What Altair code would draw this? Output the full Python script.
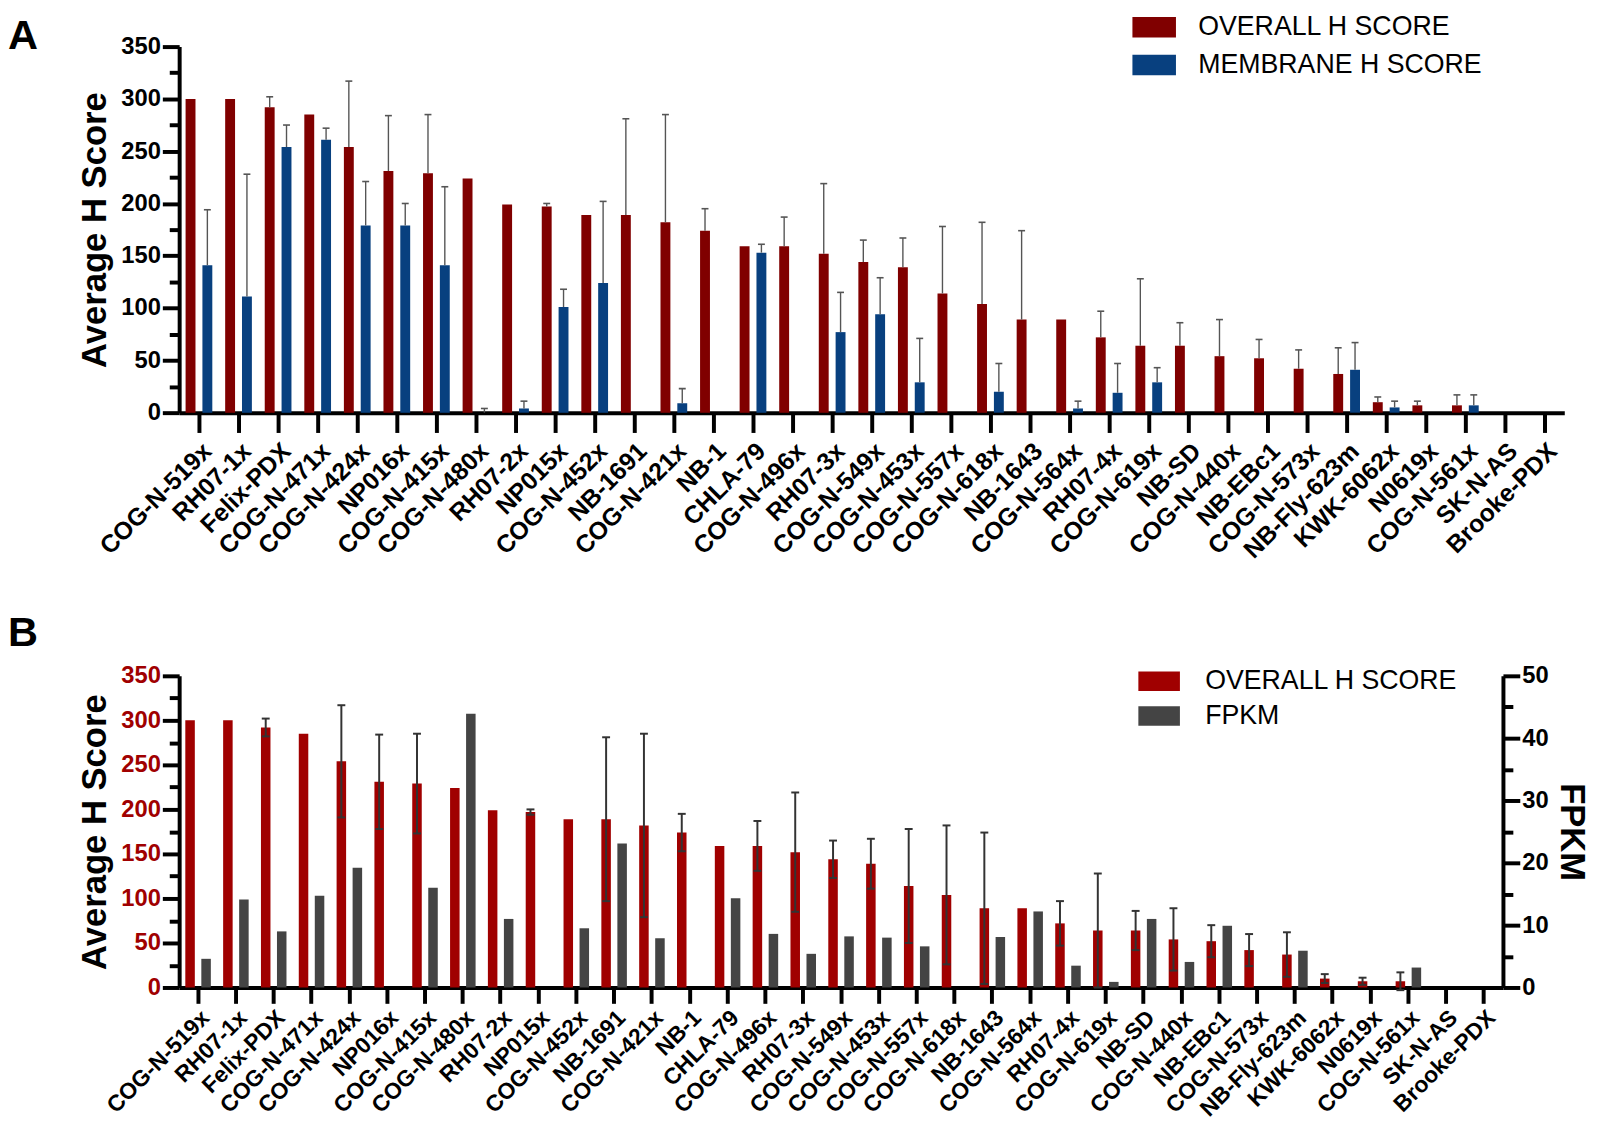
import altair as alt
import pandas as pd

categories = ["COG-N-519x", "RH07-1x", "Felix-PDX", "COG-N-471x", "COG-N-424x", "NP016x",
              "COG-N-415x", "COG-N-480x", "RH07-2x", "NP015x", "COG-N-452x", "NB-1691",
              "COG-N-421x", "NB-1", "CHLA-79", "COG-N-496x", "RH07-3x", "COG-N-549x",
              "COG-N-453x", "COG-N-557x", "COG-N-618x", "NB-1643", "COG-N-564x", "RH07-4x",
              "COG-N-619x", "NB-SD", "COG-N-440x", "NB-EBc1", "COG-N-573x", "NB-Fly-623m",
              "KWK-6062x", "N0619x", "COG-N-561x", "SK-N-AS", "Brooke-PDX"]

overall_mean = [300, 300, 292, 285, 254, 231, 229, 224, 199, 197, 189, 189, 182, 174, 159, 159,
                152, 144, 139, 114, 104, 89, 89, 72, 64, 64, 54, 52, 42, 37, 10, 7, 7, 0, 0]
overall_sd = [0, 0, 10, 0, 63, 53, 56, 0, 0, 3, 0, 92, 103, 21, 0, 28,
              67, 21, 28, 64, 78, 85, 0, 25, 64, 22, 35, 18, 18, 25, 5, 4, 10, 0, 0]
membrane_mean = [141, 111, 254, 261, 179, 179, 141, 0, 4, 101, 124, 0, 9, 0, 153, 0,
                 77, 94, 29, 0, 20, 0, 4, 19, 29, 0, 0, 0, 0, 41, 5, 0, 7, 0, 0]
membrane_sd = [53, 117, 21, 11, 42, 21, 75, 4, 7, 17, 78, 0, 14, 0, 8, 0,
               38, 35, 42, 0, 27, 0, 7, 28, 14, 0, 0, 0, 0, 26, 6, 0, 10, 0, 0]
fpkm = [4.6, 14.1, 9.0, 14.7, 19.2, 0, 16.0, 43.9, 11.0, 0, 9.5, 23.1, 7.9, 0, 14.3, 8.6,
        5.4, 8.2, 8.0, 6.6, 0, 8.1, 12.2, 3.5, 0.9, 11.0, 4.1, 9.9, 0, 5.9, 0, 0, 3.2, 0, 0]

series_a = ["OVERALL H SCORE", "MEMBRANE H SCORE"]
series_b = ["OVERALL H SCORE", "FPKM"]

FONT = "Liberation Sans"
RED_A = "#800000"
BLUE_A = "#08407F"
RED_B = "#A00000"
GRAY_B = "#444444"

# ---------------- data tables ----------------
rows_a = []
for i, c in enumerate(categories):
    rows_a.append({"cat": c, "series": series_a[0], "mean": overall_mean[i], "sd": overall_sd[i]})
    rows_a.append({"cat": c, "series": series_a[1], "mean": membrane_mean[i], "sd": membrane_sd[i]})
df_a = pd.DataFrame(rows_a)
df_a["hi"] = df_a["mean"] + df_a["sd"]

df_bh = pd.DataFrame({"cat": categories, "series": series_b[0], "mean": overall_mean, "sd": overall_sd})
df_bh["hi"] = df_bh["mean"] + df_bh["sd"]
df_bh["lo"] = df_bh["mean"] - df_bh["sd"]
df_bf = pd.DataFrame({"cat": categories, "series": series_b[1], "fpkm": fpkm})

# wide rectangle legend swatch (path drawn beyond the nominal symbol box)
rect_path = "M-2,-0.94H2V0.94H-2Z"

def x_axis(pad, size, tick):
    return alt.Axis(title=None, labelAngle=-45, labelAlign="right", labelBaseline="top",
                    labelFontSize=size, labelFontWeight="bold", labelColor="black", labelPadding=pad,
                    labelLimit=400, labelOverlap=False, tickSize=tick, tickWidth=4, tickColor="black",
                    domainWidth=4, domainColor="black", grid=False)

def y_axis(label_color, step_major, step_minor, top, title, orient="left", title_pad=8):
    return alt.Axis(title=title, orient=orient, values=list(range(0, top + 1, step_minor)),
                    labelExpr=f"datum.value % {step_major} === 0 ? datum.label : ''",
                    tickSize={"condition": {"test": f"datum.value % {step_major} === 0", "value": 17}, "value": 10},
                    tickWidth=4, tickColor="black", domainWidth=4, domainColor="black",
                    labelFontSize=24, labelFontWeight="bold", labelColor=label_color, labelPadding=2,
                    titleFontSize=35, titleFontWeight="bold", titleColor="black", titlePadding=title_pad,
                    grid=False)

# ---------------- Panel A ----------------
xA = alt.X("cat:N", sort=categories, scale=alt.Scale(paddingInner=0, paddingOuter=0), axis=x_axis(6, 25, 20))
xoffA = alt.XOffset("series:N", sort=series_a,
                    scale=alt.Scale(domain=series_a, paddingInner=0.412, paddingOuter=0.382))
yscaleA = alt.Scale(domain=[0, 350], nice=False)
yaxA = y_axis("black", 50, 25, 350, "Average H Score")

legA = alt.Legend(title=None, orient="none", legendX=972, legendY=-33, direction="vertical",
                  symbolType=rect_path, symbolSize=484, symbolStrokeWidth=0, symbolOpacity=1,
                  labelFontSize=27, labelFont=FONT, labelColor="black", labelOffset=31,
                  rowPadding=10, padding=0, labelLimit=400)
colorA = alt.Color("series:N", scale=alt.Scale(domain=series_a, range=[RED_A, BLUE_A]), legend=legA)

barsA = alt.Chart(df_a).mark_bar().encode(
    x=xA, xOffset=xoffA, y=alt.Y("mean:Q", scale=yscaleA, axis=yaxA), color=colorA)
errA = alt.Chart(df_a).transform_filter("datum.sd > 0").mark_rule(color="#555555", strokeWidth=1.4).encode(
    x=xA, xOffset=xoffA, y=alt.Y("mean:Q", scale=yscaleA, axis=yaxA), y2="hi:Q")
capA = alt.Chart(df_a).transform_filter("datum.sd > 0").mark_tick(
    color="#555555", size=7, thickness=1.6, opacity=1).encode(
    x=xA, xOffset=xoffA, y=alt.Y("hi:Q", scale=yscaleA, axis=yaxA))
letterA = alt.Chart(pd.DataFrame({"t": ["A"]})).mark_text(
    fontSize=42, fontWeight="bold", align="left", baseline="top", color="black", font=FONT).encode(
    text="t:N", x=alt.value(-173), y=alt.value(-31))

panelA = alt.layer(barsA, errA, capA, letterA).properties(width=1400, height=370)

# ---------------- Panel B ----------------
xB = alt.X("cat:N", sort=categories, scale=alt.Scale(paddingInner=0, paddingOuter=0), axis=x_axis(3, 23, 16))
xoffB = alt.XOffset("series:N", sort=series_b,
                    scale=alt.Scale(domain=series_b, paddingInner=0.406, paddingOuter=0.384))
yscaleB = alt.Scale(domain=[0, 350], nice=False)
yaxB = y_axis(RED_B, 50, 25, 350, "Average H Score")
yscaleF = alt.Scale(domain=[0, 50], nice=False)
yaxF = y_axis("black", 10, 5, 50, "FPKM", orient="right", title_pad=5)

legB = alt.Legend(title=None, orient="none", legendX=977, legendY=-8, direction="vertical",
                  symbolType=rect_path, symbolSize=441, symbolStrokeWidth=0, symbolOpacity=1,
                  labelFontSize=27, labelFont=FONT, labelColor="black", labelOffset=33,
                  rowPadding=7, padding=0, labelLimit=400)
colorB = alt.Color("series:N", scale=alt.Scale(domain=series_b, range=[RED_B, GRAY_B]), legend=legB)

barsB = alt.Chart(df_bh).mark_bar().encode(
    x=xB, xOffset=xoffB, y=alt.Y("mean:Q", scale=yscaleB, axis=yaxB), color=colorB)
errB = alt.Chart(df_bh).transform_filter("datum.sd > 0").mark_rule(color="#333333", strokeWidth=2).encode(
    x=xB, xOffset=xoffB, y=alt.Y("lo:Q", scale=yscaleB, axis=yaxB), y2="hi:Q")
capBhi = alt.Chart(df_bh).transform_filter("datum.sd > 0").mark_tick(
    color="#333333", size=8, thickness=2, opacity=1).encode(
    x=xB, xOffset=xoffB, y=alt.Y("hi:Q", scale=yscaleB, axis=yaxB))
capBlo = alt.Chart(df_bh).transform_filter("datum.sd > 0").mark_tick(
    color="#333333", size=8, thickness=2, opacity=1).encode(
    x=xB, xOffset=xoffB, y=alt.Y("lo:Q", scale=yscaleB, axis=yaxB))
letterB = alt.Chart(pd.DataFrame({"t": ["B"]})).mark_text(
    fontSize=42, fontWeight="bold", align="left", baseline="top", color="black", font=FONT).encode(
    text="t:N", x=alt.value(-173), y=alt.value(-63))

fpkmB = alt.Chart(df_bf).mark_bar().encode(
    x=xB, xOffset=xoffB, y=alt.Y("fpkm:Q", scale=yscaleF, axis=yaxF), color=colorB)

panelB = alt.layer(
    alt.layer(barsB, errB, capBhi, capBlo, letterB),
    fpkmB,
).resolve_scale(y="independent").properties(width=1338, height=315)

chart = alt.vconcat(panelA, panelB, spacing=50).resolve_scale(
    color="independent", xOffset="independent"
).properties(
    padding={"left": 0, "top": 0, "right": 3, "bottom": 0},
    background="white",
).configure_view(stroke=None).configure_axis(
    labelFont=FONT, titleFont=FONT
).configure_legend(labelFont=FONT).configure_text(font=FONT)

chart.save("out.html", embed_options={"renderer": "svg", "actions": False})
